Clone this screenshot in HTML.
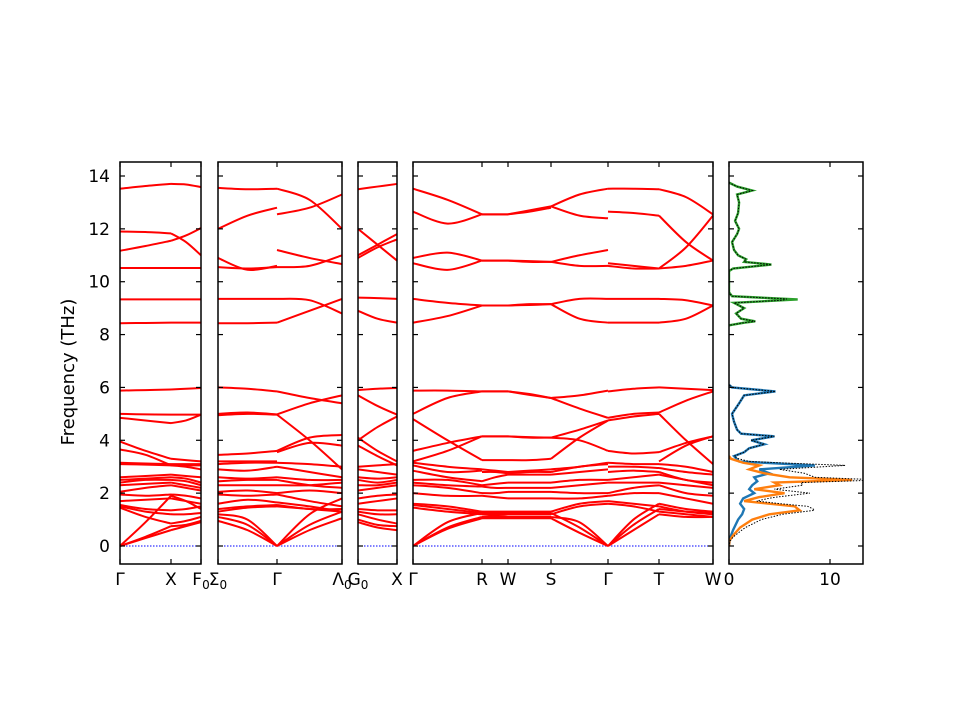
<!DOCTYPE html>
<html><head><meta charset="utf-8"><style>
html,body{margin:0;padding:0;background:#fff}
svg{display:block;font-family:"DejaVu Sans","Liberation Sans",sans-serif}
</style></head><body>
<svg id="c" width="960" height="720" viewBox="0 0 960 720" xmlns="http://www.w3.org/2000/svg"></svg>
<script>
// ---- data ----
const yTicks=[0,2,4,6,8,10,12,14];
const seg1=[[13.52,13.62,13.7],[11.9,11.88,11.83],[11.17,11.35,11.55],[10.52,10.52,10.52],[9.33,9.33,9.33],[8.43,8.44,8.45],[5.88,5.9,5.92],[5.0,4.98,4.97],[4.85,4.75,4.65],
[3.95,3.6,3.3],[3.65,3.45,3.05],[3.15,3.12,3.1],[3.1,3.08,3.05],[2.6,2.65,2.7],[2.5,2.55,2.6],[2.4,2.5,2.5],[2.3,2.35,2.4],[2.05,2.2,2.3],[1.95,1.9,1.95],[1.7,1.75,1.8],[1.55,1.4,1.35],[1.5,1.3,1.2],[1.45,1.1,0.85],[0,0.9,1.9],[0,0.35,0.75],[0,0.3,0.6]];
const seg2=[[13.7,13.68,13.58],[11.83,11.5,11.0],[11.55,11.75,12.03],[10.52,10.52,10.52],[9.33,9.33,9.33],[8.45,8.45,8.45],[5.92,5.95,5.98],[4.97,4.97,4.97],[4.65,4.75,4.97],
[3.3,3.25,3.2],[3.05,3.05,3.05],[3.1,3.1,3.1],[3.05,3.0,2.9],[2.7,2.65,2.6],[2.6,2.55,2.4],[2.5,2.45,2.3],[2.4,2.3,2.2],[2.3,2.2,2.1],[1.95,1.9,1.8],[1.8,1.7,1.6],[1.35,1.4,1.5],[1.2,1.2,1.25],[0.85,0.95,1.1],[1.9,1.7,1.4],[0.75,0.8,0.95],[0.6,0.75,0.9]];
const seg3=[[13.55,13.5,13.52],[12.0,12.5,12.8],[10.9,10.45,10.6],[10.55,10.5,10.55],[9.35,9.35,9.35],[8.43,8.43,8.45],[6.0,5.95,5.85],[5.0,5.05,4.98],[4.95,5.0,4.97],
[3.45,3.5,3.6],[3.2,3.2,3.2],[3.1,3.15,3.15],[2.9,2.85,3.0],[2.6,2.55,2.6],[2.45,2.5,2.5],[2.3,2.3,2.3],[2.05,2.1,2.0],[1.95,1.9,1.95],[1.6,1.75,1.65],[1.4,1.5,1.55],[1.3,1.45,1.5],[1.2,1.0,0],[1.1,0.8,0],[0.95,0.6,0]];
const seg4=[[13.52,13.1,12.0],[12.55,12.8,13.3],[11.2,10.9,10.67],[10.55,10.6,11.0],[9.35,9.3,8.8],[8.45,8.9,9.35],[5.85,5.6,5.4],[4.98,5.4,5.7],[4.97,4.0,2.9],[3.6,4.1,4.2],[3.55,3.9,3.8],
[3.15,3.1,3.0],[3.0,2.8,2.6],[2.6,2.5,2.5],[2.5,2.3,2.2],[2.3,2.3,2.4],[2.0,2.1,2.0],[1.95,1.7,1.5],[1.65,1.5,1.3],[1.55,1.4,1.4],[1.5,1.4,1.3],[0,1.2,1.8],[0,0.8,1.3],[0,0.6,1.05]];
const seg5=[[13.5,13.6,13.7],[12.0,11.4,10.8],[11.0,11.4,11.8],[10.9,11.3,11.6],[9.4,9.38,9.35],[8.9,8.6,8.45],[5.9,5.95,5.98],[5.7,5.3,4.97],[4.0,4.5,4.9],[4.1,3.6,3.2],
[3.8,3.4,3.05],[3.0,3.05,3.1],[2.9,2.8,2.7],[2.6,2.55,2.6],[2.5,2.4,2.5],[2.3,2.3,2.4],[2.1,2.2,2.3],[1.8,1.9,1.95],[1.6,1.7,1.8],[1.4,1.35,1.35],[1.3,1.2,1.2],[1.2,1.0,0.85],[1.0,0.8,0.75],[0.9,0.7,0.6]];
const seg6=[[13.52,13.1,12.55],[12.65,12.2,12.55],[10.9,11.1,10.8],[10.7,10.45,10.8],[9.35,9.2,9.1],[8.45,8.7,9.1],[5.88,5.88,5.85],[5.0,5.6,5.85],[4.8,4.0,3.25],[3.6,3.9,4.15],[3.2,3.6,4.15],
[3.15,3.0,2.9],[3.05,2.8,2.85],[2.85,2.6,2.45],[2.5,2.5,2.3],[2.4,2.3,2.25],[2.3,2.2,2.0],[2.0,1.9,1.9],[1.6,1.5,1.3],[1.55,1.4,1.25],[1.45,1.3,1.2],[0,0.9,1.25],[0,0.7,1.1],[0,0.65,1.05]];
const seg7=[[12.55,12.55,12.55],[12.55,12.55,12.55],[10.8,10.8,10.8],[10.8,10.8,10.8],[9.1,9.1,9.1],[9.1,9.1,9.1],[5.85,5.85,5.85],[5.85,5.85,5.85],[3.25,3.25,3.25],[4.15,4.15,4.15],[4.15,4.15,4.15],
[2.9,2.85,2.8],[2.8,2.8,2.75],[2.45,2.6,2.7],[2.3,2.35,2.4],[2.25,2.2,2.2],[2.0,2.0,2.05],[1.9,1.85,1.8],[1.3,1.3,1.3],[1.25,1.2,1.2],[1.2,1.15,1.1],[1.25,1.25,1.25],[1.1,1.1,1.1],[1.05,1.05,1.05]];
const seg8=[[12.55,12.7,12.85],[12.55,12.65,12.8],[10.8,10.75,10.75],[10.8,10.78,10.75],[9.1,9.15,9.15],[9.1,9.12,9.15],[5.85,5.75,5.6],[5.85,5.72,5.6],[3.25,3.25,3.3],[4.15,4.1,4.1],[4.15,4.12,4.1],
[2.8,2.85,2.9],[2.75,2.8,2.8],[2.7,2.7,2.7],[2.4,2.4,2.4],[2.2,2.2,2.2],[2.05,2.05,2.05],[1.8,1.8,1.8],[1.3,1.3,1.3],[1.2,1.2,1.2],[1.1,1.1,1.1],[1.25,1.25,1.25],[1.1,1.1,1.1],[1.05,1.05,1.05]];
const seg9=[[12.85,13.3,13.52],[12.85,12.5,12.4],[10.75,11.0,11.2],[10.75,10.6,10.6],[9.15,9.35,9.35],[9.15,8.6,8.45],[5.6,5.7,5.88],[5.6,5.2,4.85],[4.1,4.0,3.6],[4.1,4.4,4.75],[3.3,4.1,4.75],
[2.9,3.0,3.15],[2.8,3.0,3.1],[2.7,2.8,2.9],[2.4,2.5,2.5],[2.2,2.3,2.4],[2.05,2.0,2.0],[1.8,1.8,1.9],[1.3,1.6,1.7],[1.2,1.5,1.6],[1.1,0.9,0],[1.25,0.7,0],[1.05,0.5,0]];
const seg10=[[13.52,13.52,13.5],[12.65,12.6,12.5],[10.7,10.6,10.5],[10.6,10.5,10.5],[9.35,9.35,9.35],[8.45,8.45,8.45],[5.85,5.95,6.0],[4.85,5.0,5.05],[4.75,4.9,5.0],[3.6,3.5,3.55],
[3.15,3.1,3.1],[3.0,3.0,2.95],[2.8,2.85,2.8],[2.5,2.6,2.7],[2.4,2.4,2.4],[2.0,2.2,2.3],[1.9,2.0,2.0],[0,1.0,1.6],[0,0.8,1.4],[0,0.6,1.2],[1.7,1.6,1.5],[1.6,1.5,1.3]];
const seg11=[[13.5,13.2,12.55],[12.5,11.5,10.8],[10.5,11.3,12.5],[10.5,10.6,10.8],[9.35,9.3,9.1],[8.45,8.6,9.1],[6.0,5.95,5.9],[5.05,5.5,5.85],[5.0,4.0,3.1],[3.55,3.9,4.15],[3.2,3.8,4.15],
[3.1,3.0,2.8],[2.95,2.8,2.7],[2.8,2.5,2.4],[2.7,2.5,2.3],[2.4,2.3,2.2],[2.3,2.0,1.9],[2.0,1.8,1.6],[1.6,1.4,1.3],[1.4,1.3,1.25],[1.2,1.1,1.1],[1.5,1.3,1.2],[1.3,1.2,1.1]];
// DOS (frequency, value)
const greenF=[8.35,8.45,8.5,8.6,8.8,9.0,9.2,9.33,9.45,9.6,10.4,10.5,10.65,10.75,10.85,11.0,11.2,11.5,11.8,12.0,12.3,12.6,13.0,13.3,13.45,13.6,13.75];
const greenV=[0,1.5,2.6,1.2,0.7,1.5,0.5,6.8,0.3,0,0,0.4,4.2,1.5,1.7,0.9,0.5,0.3,0.8,1.0,0.6,0.9,1.0,0.8,2.3,0.8,0];
const blueF=[0,0.3,0.6,1.0,1.2,1.4,1.6,1.8,2.0,2.15,2.3,2.45,2.6,2.75,2.9,3.05,3.2,3.4,3.55,3.7,3.85,4.0,4.15,4.25,4.4,4.7,5.0,5.4,5.7,5.85,6.0,6.1];
const blueV=[0,0.1,0.4,0.9,1.3,1.5,1.1,1.4,2.5,2.0,2.3,2.8,2.5,4.0,3.0,8.5,1.0,0.5,1.5,2.0,3.5,2.2,4.5,1.2,0.8,0.5,0.3,1.0,1.5,4.6,0.3,0];
const orangeF=[0,0.2,0.4,0.7,1.0,1.2,1.35,1.5,1.7,1.85,2.0,2.15,2.3,2.4,2.5,2.6,2.75,2.9,3.05,3.15,3.3,3.4];
const orangeV=[0,0.05,0.4,1.1,2.3,4.0,7.0,6.5,1.5,3.0,5.5,2.5,5.0,4.5,12.2,6.0,3.5,2.0,3.0,1.4,0.2,0];
const dosTicks=[0,10];

// ---- helpers ----
const NS="http://www.w3.org/2000/svg";
const svg=document.getElementById('c');
function el(t,a,p){const e=document.createElementNS(NS,t);for(const k in a)e.setAttribute(k,a[k]);(p||svg).appendChild(e);return e;}
const Y0=546,PPU=370/14;
function yS(f){return Y0-f*PPU;}
const TOP=162,BOT=564;
function crPath(pts){let d='M'+pts[0][0].toFixed(2)+','+pts[0][1].toFixed(2);
 for(let i=0;i<pts.length-1;i++){const p0=pts[Math.max(0,i-1)],p1=pts[i],p2=pts[i+1],p3=pts[Math.min(pts.length-1,i+2)];
 const c1=[p1[0]+(p2[0]-p0[0])/6,p1[1]+(p2[1]-p0[1])/6],c2=[p2[0]-(p3[0]-p1[0])/6,p2[1]-(p3[1]-p1[1])/6];
 d+='C'+c1.map(v=>v.toFixed(2))+' '+c2.map(v=>v.toFixed(2))+' '+p2[0].toFixed(2)+','+p2[1].toFixed(2);}return d;}

const panels=[
 {x0:120,x1:201,segs:[[120,171,seg1],[171,201,seg2]],xt:[[120,'Γ'],[171,'X'],[201,'F','0']]},
 {x0:218,x1:342,segs:[[218,277,seg3],[277,342,seg4]],xt:[[218,'Σ','0'],[277,'Γ'],[342,'Λ','0']]},
 {x0:358,x1:397,segs:[[358,397,seg5]],xt:[[358,'G','0'],[397,'X']]},
 {x0:413,x1:713,segs:[[413,482,seg6],[482,508,seg7],[508,551,seg8],[551,608,seg9],[608,659,seg10],[659,713,seg11]],xt:[[413,'Γ'],[482,'R'],[508,'W'],[551,'S'],[608,'Γ'],[659,'T'],[713,'W']]}
];
function drawFrame(x0,x1,name){
 const r=el('rect',{x:x0,y:TOP,width:x1-x0,height:BOT-TOP,fill:'none',stroke:'#000','stroke-width':1.5});
 
 
 for(const t of yTicks){const y=yS(t);
  el('line',{x1:x0,x2:x0+5,y1:y,y2:y,stroke:'#000','stroke-width':1.2});
  el('line',{x1:x1-5,x2:x1,y1:y,y2:y,stroke:'#000','stroke-width':1.2});}
}
panels.forEach((P,pi)=>{
 const g=el('g',{});
 
 
 el('line',{x1:P.x0,x2:P.x1,y1:yS(0),y2:yS(0),stroke:'#0000ff','stroke-width':1,'stroke-dasharray':'1.5,1.5'},g);
 P.segs.forEach(([a,b,bands])=>{
  bands.forEach(v=>{const pts=v.map((f,i)=>[a+(b-a)*i/(v.length-1),yS(f)]);
   const p=el('path',{d:crPath(pts),fill:'none',stroke:'#ff0000','stroke-width':2},g);
   
   });
 });
 drawFrame(P.x0,P.x1,'panel-frame-'+(pi+1));
 P.xt.forEach(([x,l,s])=>{
  el('line',{x1:x,x2:x,y1:TOP,y2:TOP+5,stroke:'#000','stroke-width':1.2});
  el('line',{x1:x,x2:x,y1:BOT-5,y2:BOT,stroke:'#000','stroke-width':1.2});
  const t=el('text',{x:x,y:585,'text-anchor':'middle','font-size':17,fill:'#000'});
  
  
  t.textContent=l;
  if(s){const ts=el('tspan',{'font-size':12,dy:4},t);ts.textContent=s;}
 });
});
// y ticks labels
yTicks.forEach(t=>{const tx=el('text',{x:110,y:yS(t)+6,'text-anchor':'end','font-size':17,fill:'#000'});
 
 
 tx.textContent=t;});
const yt=el('text',{x:74,y:372,'text-anchor':'middle','font-size':18,fill:'#000',transform:'rotate(-90 74 372)'});


yt.textContent='Frequency (THz)';

// DOS panel
const DX0=729,DX1=863,DPU=10.1;
function dX(v){return DX0+v*DPU;}
function interp(F,V,f){if(f<=F[0]||f>=F[F.length-1])return 0;for(let i=0;i<F.length-1;i++)if(f>=F[i]&&f<=F[i+1])return V[i]+(V[i+1]-V[i])*(f-F[i])/(F[i+1]-F[i]);return 0;}
const gd=el('g',{});


const cp=el('clipPath',{id:'dc'});el('rect',{x:DX0,y:TOP,width:DX1-DX0,height:BOT-TOP},cp);
function dosPath(F,V,col,w,name){const pts=F.map((f,i)=>[dX(V[i]),yS(f)]);
 const p=el('path',{d:'M'+pts.map(p=>p[0].toFixed(2)+','+p[1].toFixed(2)).join('L'),fill:'none',stroke:col,'stroke-width':w,'clip-path':'url(#dc)'},gd);
 
 return p;}
dosPath(blueF,blueV,'#1f77b4',2.4,'dos-blue');
dosPath(orangeF,orangeV,'#ff7f0e',2.4,'dos-orange');
dosPath(greenF,greenV,'#2ca02c',2.4,'dos-green');
const totF=[];for(let f=-0.6;f<=14.4;f+=0.05)totF.push(+f.toFixed(2));
const totV=totF.map(f=>interp(blueF,blueV,f)+interp(orangeF,orangeV,f)+interp(greenF,greenV,f));
const tp=dosPath(totF,totV,'#000',1,'dos-total');tp.setAttribute('stroke-dasharray','1.5,1.5');
drawFrame(DX0,DX1,'dos-frame');
dosTicks.forEach(v=>{const x=dX(v);
 el('line',{x1:x,x2:x,y1:TOP,y2:TOP+5,stroke:'#000','stroke-width':1.2});
 el('line',{x1:x,x2:x,y1:BOT-5,y2:BOT,stroke:'#000','stroke-width':1.2});
 const t=el('text',{x:x,y:585,'text-anchor':'middle','font-size':17,fill:'#000'});
 
 
 t.textContent=v;});
</script>
</body></html>
